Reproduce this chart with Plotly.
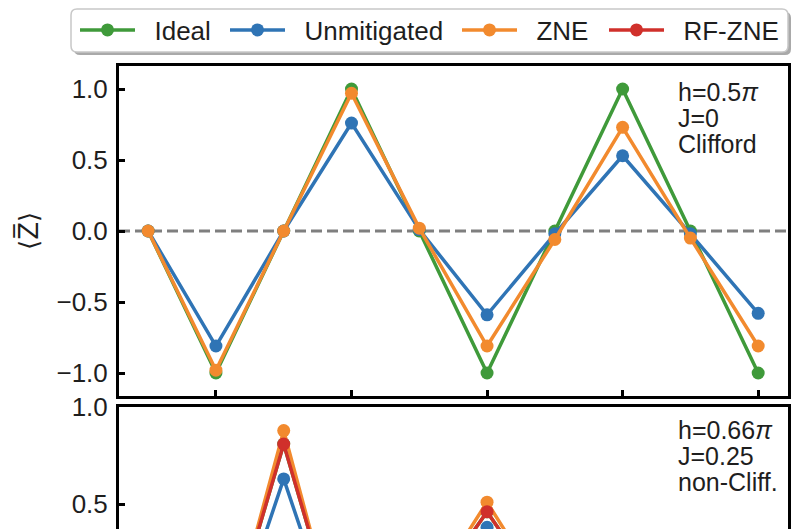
import plotly.graph_objects as go

# ---------------- data ----------------
steps = list(range(10))

# top panel: h=0.5pi, J=0, Clifford
top_ideal = [0.0, -1.0, 0.0, 1.0, 0.0, -1.0, 0.0, 1.0, 0.0, -1.0]
top_unmit = [0.0, -0.81, 0.0, 0.76, 0.01, -0.59, -0.02, 0.53, -0.02, -0.58]
top_zne = [0.0, -0.98, 0.0, 0.97, 0.02, -0.81, -0.06, 0.73, -0.05, -0.81]

# bottom panel: h=0.66pi, J=0.25, non-Clifford (only the upper part is visible)
bot_ideal = [0.0, -0.38, 0.81, -0.39, -0.04, 0.46, -0.05, -0.30, 0.22, -0.12]
bot_unmit = [0.0, -0.41, 0.63, -0.41, -0.05, 0.38, -0.06, -0.25, 0.18, -0.10]
bot_zne = [0.0, -0.42, 0.88, -0.43, -0.04, 0.51, -0.05, -0.33, 0.25, -0.14]
bot_rfzne = [0.0, -0.38, 0.81, -0.39, -0.04, 0.46, -0.05, -0.30, 0.22, -0.12]

series_names = ["Ideal", "Unmitigated", "ZNE", "RF-ZNE"]
colors = {"Ideal": "#3f9a3a", "Unmitigated": "#2f74b5", "ZNE": "#f28a2e", "RF-ZNE": "#d0302b"}

top_ticks = [-1.0, -0.5, 0.0, 0.5, 1.0]
bot_ticks = [0.5, 1.0]
x_ticks = [1, 3, 5, 7, 9]

top_notes = ["h=0.5<i>π</i>", "J=0", "Clifford"]
bot_notes = ["h=0.66<i>π</i>", "J=0.25", "non-Cliff."]

# ---------------- layout helpers (pixel -> paper) ----------------
W, H = 800, 529
ML, MR, MT, MB = 119, 12, 66, 0
PW, PH = W - ML - MR, H - MT - MB


def px(xp):
    return (xp - ML) / PW


def py(yp):
    return (H - MB - yp) / PH


FONT = "Arial, 'Liberation Sans', Helvetica, sans-serif"
TXT = "#1e1e1e"
PAD = "\u00a0\u00a0"  # gap between legend symbol and label

fig = go.Figure()

legend_of = {"Ideal": "legend", "Unmitigated": "legend2", "ZNE": "legend3", "RF-ZNE": "legend4"}


def add(y, name, xa, ya, showlegend):
    fig.add_trace(go.Scatter(
        x=steps, y=y, name=PAD + name, mode="lines+markers",
        line=dict(color=colors[name], width=3.5),
        marker=dict(color=colors[name], size=13),
        xaxis=xa, yaxis=ya, showlegend=showlegend,
        legend=legend_of[name], cliponaxis=True,
    ))


add(top_ideal, "Ideal", "x", "y", True)
add(top_unmit, "Unmitigated", "x", "y", True)
add(top_zne, "ZNE", "x", "y", True)

add(bot_ideal, "Ideal", "x2", "y2", False)
add(bot_unmit, "Unmitigated", "x2", "y2", False)
add(bot_zne, "ZNE", "x2", "y2", False)
add(bot_rfzne, "RF-ZNE", "x2", "y2", True)

axis_common = dict(showline=True, linecolor="black", linewidth=3, showgrid=False,
                   zeroline=False, ticks="inside", ticklen=6, tickwidth=3, tickcolor="black",
                   tickfont=dict(family=FONT, size=26, color=TXT))

top_dom_bottom = py(396)
bot_dom_top = py(407)

fig.update_layout(
    width=W, height=H,
    margin=dict(l=ML, r=MR, t=MT, b=MB, pad=0),
    paper_bgcolor="white", plot_bgcolor="white",
    font=dict(family=FONT, size=25, color=TXT),
    xaxis=dict(domain=[0, 1], anchor="y", range=[-0.43, 9.44], tickvals=x_ticks,
               showticklabels=False, mirror=True, **axis_common),
    yaxis=dict(domain=[top_dom_bottom, 1], anchor="x", range=[-1.162, 1.162],
               tickvals=top_ticks, tickformat=".1f", mirror=True, ticklabelstandoff=3,
               **axis_common),
    xaxis2=dict(domain=[0, 1], anchor="y2", matches="x", side="top", showline=True,
                linecolor="black", linewidth=3, mirror=False, showgrid=False, zeroline=False,
                ticks="", showticklabels=False),
    yaxis2=dict(domain=[0, bot_dom_top], anchor="x2", range=[0.371, 1.002],
                tickvals=bot_ticks, tickformat=".1f", mirror=True, ticklabelstandoff=3,
                **axis_common),
)

# zero reference line in the top panel
fig.add_shape(type="line", xref="x domain", yref="y", x0=0, x1=1, y0=0, y1=0,
              line=dict(color="#7f7f7f", width=3, dash="11px,5px"), layer="below")

# legend frame (shadow + rounded box)
def rounded(x0, y0, x1, y1, r):
    rx, ry = r / PW, r / PH
    X0, X1 = px(x0), px(x1)
    Y0, Y1 = py(y1), py(y0)  # Y0 bottom, Y1 top (paper)
    return (f"M{X0+rx},{Y0} L{X1-rx},{Y0} Q{X1},{Y0} {X1},{Y0+ry} "
            f"L{X1},{Y1-ry} Q{X1},{Y1} {X1-rx},{Y1} L{X0+rx},{Y1} "
            f"Q{X0},{Y1} {X0},{Y1-ry} L{X0},{Y0+ry} Q{X0},{Y0} {X0+rx},{Y0} Z")


fig.add_shape(type="path", xref="paper", yref="paper", path=rounded(74, 12, 791, 55, 6),
              fillcolor="#a9a9a9", line=dict(width=0), layer="above")
fig.add_shape(type="path", xref="paper", yref="paper", path=rounded(71, 9, 788, 52, 6),
              fillcolor="white", line=dict(color="#c8c8c8", width=1.5), layer="above")

leg_y = py(30)
leg_x = {"legend": 75, "legend2": 225, "legend3": 457, "legend4": 604}
for key, xp in leg_x.items():
    fig.update_layout({key: dict(x=px(xp), y=leg_y, xanchor="left", yanchor="middle",
                                 orientation="h", bgcolor="rgba(0,0,0,0)", borderwidth=0,
                                 itemwidth=55,
                                 font=dict(family=FONT, size=26, color=TXT))})

# panel annotations
for txt, yc in zip(top_notes, [92, 118, 144]):
    fig.add_annotation(x=px(676), y=py(yc), xref="paper", yref="paper", text=txt,
                       showarrow=False, xanchor="left", yanchor="middle",
                       font=dict(family=FONT, size=25, color=TXT))
for txt, yc in zip(bot_notes, [430, 456, 482]):
    fig.add_annotation(x=px(676), y=py(yc), xref="paper", yref="paper", text=txt,
                       showarrow=False, xanchor="left", yanchor="middle",
                       font=dict(family=FONT, size=25, color=TXT))

# y-axis title
fig.add_annotation(x=px(28), y=py(231), xref="paper", yref="paper", text="⟨Z̅⟩",
                   showarrow=False, textangle=-90, xanchor="center", yanchor="middle",
                   font=dict(family="DejaVu Sans, " + FONT, size=26, color=TXT))

fig.write_html("out.html")
